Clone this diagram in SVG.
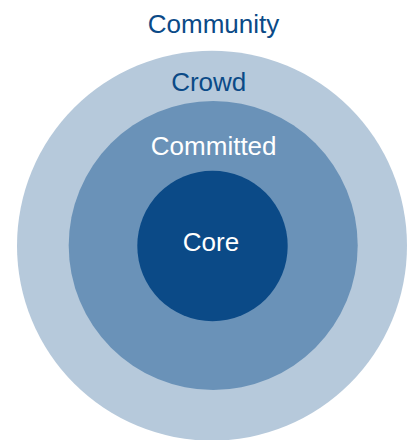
<svg xmlns="http://www.w3.org/2000/svg" width="411" height="440" viewBox="0 0 411 440">
  <style>
    .lbl { font-family: "Liberation Sans", Arial, sans-serif; font-size: 26px; text-anchor: middle; }
    .dark { fill: #0b4a87; }
    .light { fill: #ffffff; }
  </style>
  <rect width="411" height="440" fill="#ffffff"/>
  <!-- concentric rings, outermost first -->
  <g id="crowd">
    <circle cx="212" cy="245.7" r="195" fill="#b6c9db"/>
  </g>
  <g id="committed">
    <circle cx="213.2" cy="245.5" r="144.5" fill="#6a92b8"/>
  </g>
  <g id="core">
    <circle cx="212.5" cy="246" r="75.2" fill="#0b4a87"/>
  </g>
  <g id="connectors"/>
  <!-- ring labels -->
  <g id="labels">
    <text class="lbl dark" x="213.5" y="33">Community</text>
    <text class="lbl dark" x="208.7" y="90.5">Crowd</text>
    <text class="lbl light" x="213.7" y="155">Committed</text>
    <text class="lbl light" x="211" y="251">Core</text>
  </g>
</svg>
